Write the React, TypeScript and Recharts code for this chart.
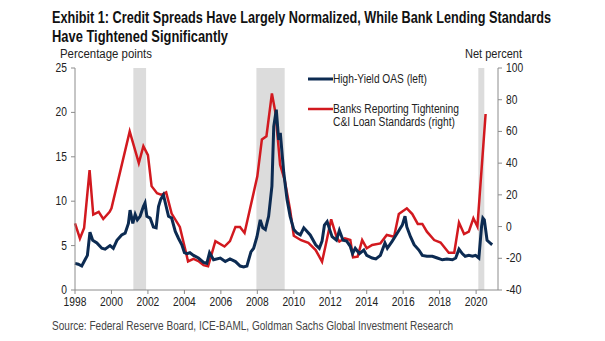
import { ComposedChart, Line, XAxis, YAxis, ReferenceArea } from "recharts";

// High-yield OAS, percentage points (left axis)
const oasYears = [
  1998.0, 1998.18, 1998.37, 1998.55, 1998.68, 1998.82, 1998.97, 1999.2, 1999.47, 1999.65, 1999.92, 2000.1,
  2000.3, 2000.56, 2000.75, 2000.93, 2001.02, 2001.17, 2001.3, 2001.42, 2001.57, 2001.75, 2001.84, 2001.94,
  2002.12, 2002.3, 2002.45, 2002.58, 2002.7, 2002.85, 2003.0, 2003.13, 2003.3, 2003.5, 2003.68, 2003.86,
  2004.0, 2004.14, 2004.3, 2004.5, 2004.77, 2005.05, 2005.23, 2005.38, 2005.6, 2005.97, 2006.24, 2006.5,
  2006.8, 2007.06, 2007.25, 2007.43, 2007.65, 2007.8, 2007.98, 2008.16, 2008.3, 2008.44, 2008.62, 2008.8,
  2008.9, 2009.04, 2009.17, 2009.26, 2009.45, 2009.63, 2009.8, 2010.0, 2010.18, 2010.36, 2010.55, 2010.73,
  2010.9, 2011.2, 2011.4, 2011.55, 2011.68, 2011.83, 2011.97, 2012.1, 2012.34, 2012.5, 2012.7, 2012.9,
  2013.1, 2013.22, 2013.37, 2013.6, 2013.84, 2014.0, 2014.3, 2014.5, 2014.75, 2015.0, 2015.13, 2015.4,
  2015.67, 2015.95, 2016.1, 2016.2, 2016.4, 2016.6, 2016.86, 2017.05, 2017.3, 2017.6, 2017.87, 2018.15,
  2018.4, 2018.7, 2018.88, 2019.06, 2019.24, 2019.4, 2019.6, 2019.8, 2019.97, 2020.15, 2020.3, 2020.37,
  2020.45, 2020.6, 2020.76, 2020.88,
];
const oasValues = [
  3.0, 2.9, 2.7, 3.4, 3.9, 6.5, 5.6, 5.3, 4.7, 4.6, 5.0, 4.7,
  5.6, 6.2, 6.4, 7.5, 9.0, 7.5, 8.5, 7.9, 8.3, 9.4, 9.8, 8.3,
  8.1, 7.1, 7.0, 9.4, 10.2, 10.7, 9.4, 8.3, 8.1, 6.6, 5.8, 5.1,
  4.2, 4.1, 4.2, 3.9, 3.6, 3.1, 3.0, 4.2, 3.4, 3.6, 3.2, 3.5,
  3.2, 2.7, 2.6, 2.7, 4.3, 4.7, 6.0, 7.9, 7.0, 6.8, 8.3, 11.7,
  18.4, 20.3, 16.9, 17.7, 13.2, 10.2, 8.3, 6.8, 6.4, 6.2, 7.0, 6.6,
  6.2, 5.1, 4.7, 5.5, 7.3, 7.7, 6.8, 6.0, 5.6, 6.7, 5.6, 5.5,
  4.9, 4.1, 4.7, 4.1, 4.5, 3.9, 3.6, 3.5, 3.9, 5.3, 4.7, 5.5,
  6.4, 7.3, 8.3, 7.1, 6.0, 5.1, 4.5, 3.9, 3.8, 3.8, 3.6, 3.4,
  3.5, 3.4, 3.6, 4.6, 4.1, 3.8, 3.9, 3.8, 3.9, 3.6, 7.2, 8.1,
  7.9, 5.6, 5.3, 5.1,
];

// Banks reporting tightening C&I loan standards, net percent (right axis)
const sloosYears = [
  1998.0, 1998.27, 1998.5, 1998.8, 1999.0, 1999.3, 1999.55, 1999.9, 2000.0, 2001.0, 2001.5, 2001.75,
  2002.0, 2002.2, 2002.5, 2002.75, 2003.0, 2003.3, 2003.75, 2004.1, 2004.2, 2004.5, 2004.8, 2005.05,
  2005.3, 2005.7, 2006.2, 2006.5, 2006.8, 2007.05, 2007.3, 2008.0, 2008.25, 2008.5, 2008.8, 2009.0,
  2009.25, 2009.5, 2009.8, 2010.0, 2010.4, 2010.8, 2011.2, 2011.55, 2011.73, 2012.05, 2012.34, 2012.5,
  2012.8, 2013.1, 2013.25, 2013.5, 2013.75, 2014.0, 2014.3, 2014.75, 2015.1, 2015.5, 2015.76, 2016.2,
  2016.5, 2016.8, 2017.05, 2017.3, 2017.7, 2018.05, 2018.5, 2018.8, 2019.06, 2019.34, 2019.6, 2019.85,
  2020.07, 2020.52,
];
const sloosValues = [
  2, -7.5, -0.8, 35.6, 7.6, 9.3, 4.8, 9.3, 11.5, 60, 40, 50.7,
  45, 25.5, 21, 20, 21.6, 8.2, -0.2, -17, -22, -20.4, -22, -24.3,
  -25, -9.2, -12.6, -9.2, -0.2, -0.2, -4, 31.7, 55, 57, 84, 71.4,
  39, 29.4, 10.4, -5.8, -8.6, -10.3, -14.8, -22.1, -12.7, 4.6, -6.4, -9.5,
  -7.4, -8.5, -19.4, -19, -8.5, -13.7, -11.6, -10.6, -5.3, -6.4, 7.9, 11.5,
  7.9, 1.7, 1.7, -3.2, -8.5, -10.1, -16.5, -16.5, 2.5, -4.7, -3.2, 5.2,
  0, 71,
];

const recessions = [
  [2001.2, 2001.9],
  [2007.95, 2009.5],
  [2020.12, 2020.45],
];

const yearTicks = [1998, 2000, 2002, 2004, 2006, 2008, 2010, 2012, 2014, 2016, 2018, 2020];
const leftTicks = [0, 5, 10, 15, 20, 25];
const rightTicks = [-40, -20, 0, 20, 40, 60, 80, 100];

const oasData = oasYears.map((t, i) => ({ t, oas: oasValues[i] }));
const sloosData = sloosYears.map((t, i) => ({ t, sloos: sloosValues[i] }));

const NAVY = "#0c2b52";
const RED = "#d2191f";
const AXIS = "#8c8c8c";
const FONT = "'Liberation Sans', Arial, sans-serif";

// squeeze text to the narrow width used in the original
function Txt({ x, y, w, size, bold, fill = "#222", children }: any) {
  return (
    <text
      x={x}
      y={y}
      textLength={w}
      lengthAdjust="spacingAndGlyphs"
      fontFamily={FONT}
      fontSize={size}
      fontWeight={bold ? "bold" : "normal"}
      fill={fill}
    >
      {children}
    </text>
  );
}

function NarrowTick({ x, y, payload, anchor, dy }: any) {
  const s = String(payload.value);
  const w = s.length * 5.7 + (s.startsWith("-") ? -1.5 : 0);
  const left = anchor === "end" ? x - w : anchor === "middle" ? x - w / 2 : x;
  return (
    <text x={left} y={y + dy} textLength={w} lengthAdjust="spacingAndGlyphs" fontFamily={FONT} fontSize={12.5} fill="#222">
      {s}
    </text>
  );
}

export default function App() {
  return (
    <div style={{ position: "absolute", left: 0, top: 0, width: 605, height: 341, background: "#fff", overflow: "hidden" }}>
      <ComposedChart width={605} height={341} margin={{ top: 68, right: 77, bottom: 31, left: 45 }}>
        <XAxis
          dataKey="t"
          type="number"
          domain={[1998, 2021.2]}
          ticks={yearTicks}
          height={20}
          stroke={AXIS}
          tickSize={4}
          tickMargin={2}
          tick={(p: any) => <NarrowTick {...p} anchor="middle" dy={10} />}
          interval={0}
        />
        <YAxis
          yAxisId="left"
          domain={[0, 25]}
          ticks={leftTicks}
          width={30}
          stroke={AXIS}
          tickSize={4}
          tickMargin={4}
          tick={(p: any) => <NarrowTick {...p} anchor="end" dy={4} />}
          interval={0}
        />
        <YAxis
          yAxisId="right"
          orientation="right"
          domain={[-40, 100]}
          ticks={rightTicks}
          width={30}
          stroke={AXIS}
          tickSize={4}
          tickMargin={4}
          tick={(p: any) => <NarrowTick {...p} anchor="start" dy={4} />}
          interval={0}
        />
        {recessions.map(([a, b], i) => (
          <ReferenceArea key={i} yAxisId="left" x1={a} x2={b} y1={0} y2={25} fill="#dcdcdc" fillOpacity={1} stroke="none" />
        ))}
        <Line
          yAxisId="right"
          data={sloosData}
          dataKey="sloos"
          type="linear"
          stroke={RED}
          strokeWidth={2.5}
          dot={false}
          isAnimationActive={false}
        />
        <Line
          yAxisId="left"
          data={oasData}
          dataKey="oas"
          type="linear"
          stroke={NAVY}
          strokeWidth={3}
          dot={false}
          isAnimationActive={false}
        />
      </ComposedChart>
      <svg width={605} height={341} style={{ position: "absolute", left: 0, top: 0, pointerEvents: "none" }}>
        <Txt x={52} y={23} w={499} size={16} bold fill="#111">
          Exhibit 1: Credit Spreads Have Largely Normalized, While Bank Lending Standards
        </Txt>
        <Txt x={52} y={42} w={176} size={16} bold fill="#111">
          Have Tightened Significantly
        </Txt>
        <Txt x={60} y={58} w={92} size={12.5}>Percentage points</Txt>
        <Txt x={465} y={58} w={57} size={12.5}>Net percent</Txt>
        <line x1={308} y1={79} x2={333} y2={79} stroke={NAVY} strokeWidth={3} />
        <Txt x={333} y={83} w={94} size={12}>High-Yield OAS (left)</Txt>
        <line x1={308} y1={109} x2={333} y2={109} stroke={RED} strokeWidth={2.5} />
        <Txt x={333} y={113} w={126} size={12}>Banks Reporting Tightening</Txt>
        <Txt x={333} y={126} w={122} size={12}>C&amp;I Loan Standards (right)</Txt>
        <Txt x={52} y={330} w={401} size={12.5} fill="#444">
          Source: Federal Reserve Board, ICE-BAML, Goldman Sachs Global Investment Research
        </Txt>
      </svg>
    </div>
  );
}
